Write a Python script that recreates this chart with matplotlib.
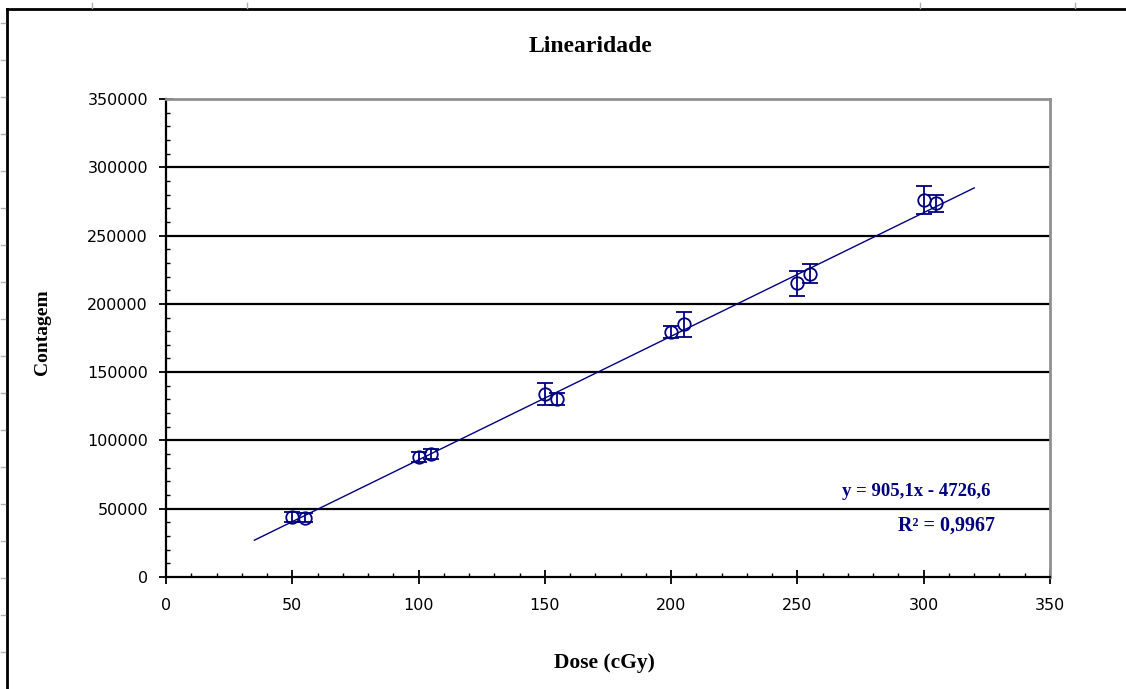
import matplotlib.pyplot as plt
from matplotlib.lines import Line2D
from matplotlib.ticker import MultipleLocator
import numpy as np

# dose values (cGy) and readings taken off the chart
dose = [50, 55, 100, 105, 150, 155, 200, 205, 250, 255, 300, 305]
contagem = [43900, 43500, 88000, 90000, 134000, 130500,
            179500, 185000, 215000, 222000, 276000, 273500]
erro = [3500, 3500, 3500, 3500, 8000, 4500,
        4500, 9000, 9000, 7000, 10500, 6500]

# linear trendline as reported on the chart
slope = 905.1
intercept = -4726.6
trend_x = [35, 320]
eq_text = 'y = 905,1x - 4726,6'
r2_text = 'R² = 0,9967'

NAVY = '#000080'
W, H = 1126, 689

fig = plt.figure(figsize=(W / 100, H / 100), dpi=100)
ax = fig.add_axes([166 / W, 1 - 577 / H, (1050 - 166) / W, (577 - 99) / H])

# horizontal gridlines (black, Excel style)
for gy in range(50000, 350000, 50000):
    ax.axhline(gy, color='black', lw=1.6, zorder=1)

tx = np.array(trend_x)
ax.plot(tx, slope * tx + intercept, color=NAVY, lw=1.0, zorder=2)

ax.errorbar(dose, contagem, yerr=erro, fmt='o', color=NAVY, ecolor=NAVY,
            mfc='none', mec=NAVY, ms=9, mew=1.3, elinewidth=1.3,
            capsize=6, capthick=1.3, zorder=3)

ax.set_xlim(0, 350)
ax.set_ylim(0, 350000)
ax.xaxis.set_major_locator(MultipleLocator(50))
ax.xaxis.set_minor_locator(MultipleLocator(10))
ax.yaxis.set_major_locator(MultipleLocator(50000))
ax.yaxis.set_minor_locator(MultipleLocator(10000))

ax.tick_params(which='major', direction='inout', length=10, width=1.3,
               labelsize=11.5, colors='black')
ax.tick_params(axis='x', which='major', pad=10)
ax.tick_params(axis='y', which='major', pad=8)
ax.tick_params(which='minor', direction='in', length=3, width=1.0)

for s in ['left', 'bottom']:
    ax.spines[s].set_color('black')
    ax.spines[s].set_linewidth(1.6)
for s in ['top', 'right']:
    ax.spines[s].set_color('#909090')
    ax.spines[s].set_linewidth(2.0)

serif = ['Liberation Serif', 'DejaVu Serif']
fig.text(590 / W, 1 - 47 / H, 'Linearidade', ha='center', va='center',
         family=serif, weight='bold', fontsize=17)
fig.text(604 / W, 1 - 663 / H, 'Dose (cGy)', ha='center', va='center',
         family=serif, weight='bold', fontsize=15.5)
fig.text(42 / W, 1 - 332 / H, 'Contagem', ha='center', va='center',
         rotation=90, family=serif, weight='bold', fontsize=14)

fig.text(991 / W, 1 - 492 / H, eq_text, ha='right', va='center',
         family=serif, weight='bold', fontsize=13.5, color=NAVY)
fig.text(995 / W, 1 - 526 / H, r2_text, ha='right', va='center',
         family=serif, weight='bold', fontsize=14.5, color=NAVY)

# outer chart frame (cut off on right and bottom)
fig.add_artist(Line2D([7 / W, 7 / W], [0, 1 - 9 / H], color='black', lw=2,
                      transform=fig.transFigure))
fig.add_artist(Line2D([7 / W, 1], [1 - 9 / H, 1 - 9 / H], color='black', lw=2,
                      transform=fig.transFigure))
# faint ruler marks outside the frame
for ry in np.arange(23, H, 37):
    fig.add_artist(Line2D([1 / W, 5 / W], [1 - ry / H, 1 - ry / H],
                          color='#b0b0b0', lw=1, transform=fig.transFigure))
for rx in [92, 247, 920, 1075]:
    fig.add_artist(Line2D([rx / W, rx / W], [1 - 3 / H, 1 - 8 / H],
                          color='#b0b0b0', lw=1, transform=fig.transFigure))

fig.savefig('out.png', dpi=100, facecolor='white')
